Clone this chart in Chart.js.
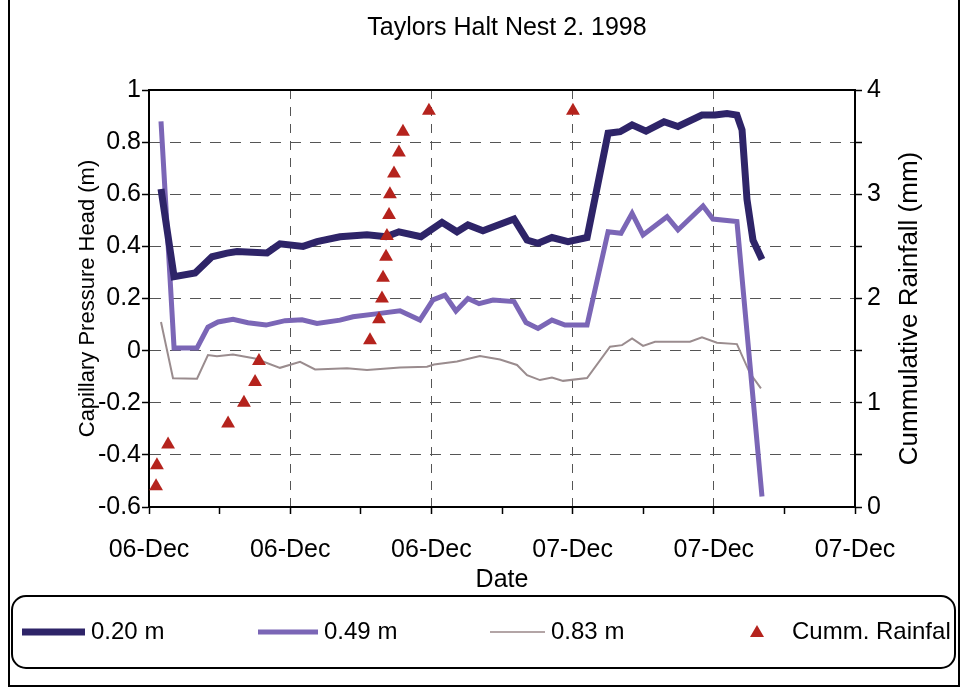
<!DOCTYPE html>
<html>
<head>
<meta charset="utf-8">
<title>Taylors Halt Nest 2. 1998</title>
<script src="https://cdn.jsdelivr.net/npm/chart.js@4.4.1/dist/chart.umd.min.js"></script>
<style>
  html, body { margin: 0; padding: 0; background: #fff; }
  #wrap { width: 964px; height: 692px; }
</style>
</head>
<body>
<div id="wrap"><canvas id="nest2" width="964" height="692"></canvas></div>
<script>
// x values are hours from the first tick (06-Dec)
var xTickLabels = ['06-Dec', '06-Dec', '06-Dec', '07-Dec', '07-Dec', '07-Dec'];
var yTickLabels = ['-0.6', '-0.4', '-0.2', '0', '0.2', '0.4', '0.6', '0.8', '1'];
var rainTickLabels = ['0', '1', '2', '3', '4'];

// 0.20 m
var hours020 = [0.68, 1.42, 2.61, 3.57, 4.42, 4.99, 6.69, 7.42, 8.73, 9.52, 10.82, 12.35, 13.43, 14.16, 15.41,
    16.60, 17.45, 18.07, 18.92, 20.68, 21.42, 22.04, 22.83, 23.74, 24.82, 26.01, 26.69, 27.37, 28.16, 29.18,
    29.97, 31.33, 32.07, 32.75, 33.31, 33.60, 33.88, 34.22, 34.73];
var head020 = [0.62, 0.284, 0.298, 0.36, 0.374, 0.38, 0.375, 0.41, 0.40, 0.418, 0.437, 0.445, 0.437, 0.456, 0.437,
    0.492, 0.456, 0.482, 0.46, 0.505, 0.424, 0.412, 0.434, 0.418, 0.434, 0.834, 0.84, 0.866, 0.842, 0.878,
    0.86, 0.904, 0.904, 0.91, 0.904, 0.847, 0.58, 0.424, 0.35];

// 0.49 m
var hours049 = [0.68, 1.42, 2.72, 3.34, 3.91, 4.76, 5.61, 6.63, 7.71, 8.67, 9.52, 10.82, 11.56, 13.09, 14.22,
    15.35, 16.09, 16.77, 17.39, 18.07, 18.70, 19.49, 20.68, 21.36, 22.04, 22.83, 23.57, 24.82, 26.01, 26.74,
    27.37, 27.99, 29.35, 29.97, 31.39, 31.95, 33.31, 34.73];
var head049 = [0.88, 0.01, 0.01, 0.09, 0.11, 0.12, 0.107, 0.098, 0.115, 0.118, 0.104, 0.117, 0.13, 0.143, 0.153,
    0.117, 0.195, 0.213, 0.152, 0.20, 0.18, 0.194, 0.188, 0.108, 0.085, 0.117, 0.098, 0.098, 0.456, 0.45,
    0.527, 0.444, 0.514, 0.463, 0.555, 0.505, 0.495, -0.56];

// 0.83 m
var hours083 = [0.68, 1.36, 2.72, 3.34, 3.85, 4.76, 6.01, 7.42, 8.56, 9.41, 11.22, 12.35, 14.22, 15.75, 16.15,
    17.45, 18.75, 19.89, 20.85, 21.42, 22.15, 22.83, 23.46, 24.82, 26.12, 26.80, 27.37, 27.99, 28.67, 30.65,
    31.33, 32.18, 33.31, 34.05, 34.67];
var head083 = [0.11, -0.106, -0.108, -0.017, -0.022, -0.015, -0.03, -0.066, -0.043, -0.072, -0.068, -0.074, -0.065, -0.062, -0.053,
    -0.042, -0.021, -0.034, -0.055, -0.094, -0.113, -0.103, -0.116, -0.105, 0.015, 0.021, 0.047, 0.018, 0.034, 0.034,
    0.051, 0.03, 0.025, -0.087, -0.145];

// cumulative rainfall (mm)
var hoursRain = [0.40, 0.45, 1.08, 4.48, 5.38, 6.01, 6.23, 12.52, 13.03, 13.20, 13.26, 13.43, 13.48, 13.60, 13.65,
    13.88, 14.16, 14.39, 15.86, 24.02];
var rainMm = [0.2, 0.4, 0.6, 0.8, 1.0, 1.2, 1.4, 1.6, 1.8, 2.0, 2.2, 2.4, 2.6, 2.8, 3.0,
    3.2, 3.4, 3.6, 3.8, 3.8];

var FONT = "'Liberation Sans', Arial, sans-serif";
var navy = '#2e2468';
var purple = '#7b66b6';
var grey = '#9a8c8e';
var red = '#b5231d';

function pairs(xs, ys) {
    var out = [];
    for (var i = 0; i < xs.length; i++) out.push({x: xs[i], y: ys[i]});
    return out;
}

// frame, title, right axis title (reads bottom-up) and the boxed legend
var decor = {
    id: 'decor',
    afterDraw: function (chart) {
        var c = chart.ctx, a = chart.chartArea;
        c.save();
        c.strokeStyle = '#000';
        c.lineWidth = 2;
        c.beginPath();
        c.moveTo(a.left, a.top);
        c.lineTo(a.right, a.top);
        c.stroke();

        // outer border of the figure
        c.beginPath();
        c.moveTo(9, 0);
        c.lineTo(9, 686);
        c.lineTo(959, 686);
        c.lineTo(959, 0);
        c.stroke();

        c.fillStyle = '#000';
        c.font = '25px ' + FONT;
        c.textAlign = 'center';
        c.textBaseline = 'middle';
        c.fillText('Taylors Halt Nest 2. 1998', (a.left + a.right) / 2 + 5, 28);

        c.save();
        c.font = '26px ' + FONT;
        c.translate(910, (a.top + a.bottom) / 2 + 10);
        c.rotate(-Math.PI / 2);
        c.fillText('Cummulative Rainfall (mm)', 0, 0);
        c.restore();

        // legend box
        var bx = 12, by = 596, bw = 943, bh = 72, r = 14;
        c.beginPath();
        c.moveTo(bx + r, by);
        c.arcTo(bx + bw, by, bx + bw, by + bh, r);
        c.arcTo(bx + bw, by + bh, bx, by + bh, r);
        c.arcTo(bx, by + bh, bx, by, r);
        c.arcTo(bx, by, bx + bw, by, r);
        c.closePath();
        c.stroke();

        var ly = 632;
        var items = [
            {x0: 22, x1: 85, color: navy, w: 7, text: '0.20 m'},
            {x0: 258, x1: 318, color: purple, w: 5, text: '0.49 m'},
            {x0: 490, x1: 545, color: '#b3a5a6', w: 2, text: '0.83 m'}
        ];
        c.textAlign = 'left';
        c.font = '24px ' + FONT;
        items.forEach(function (it) {
            c.strokeStyle = it.color;
            c.lineWidth = it.w;
            c.beginPath();
            c.moveTo(it.x0, ly);
            c.lineTo(it.x1, ly);
            c.stroke();
            c.fillText(it.text, it.x1 + 6, ly);
        });
        c.fillStyle = red;
        c.beginPath();
        c.moveTo(757, ly - 7);
        c.lineTo(764, ly + 5);
        c.lineTo(750, ly + 5);
        c.closePath();
        c.fill();
        c.fillStyle = '#000';
        c.fillText('Cumm. Rainfal', 792, ly);
        c.restore();
    }
};

var ctx = document.getElementById('nest2');

var chart = new Chart(ctx, {
    type: 'line',
    data: {
        datasets: [{
            label: '0.20 m',
            data: pairs(hours020, head020),
            borderColor: navy,
            borderWidth: 7,
            pointRadius: 0,
            yAxisID: 'y'
        }, {
            label: '0.49 m',
            data: pairs(hours049, head049),
            borderColor: purple,
            borderWidth: 5,
            pointRadius: 0,
            yAxisID: 'y'
        }, {
            label: '0.83 m',
            data: pairs(hours083, head083),
            borderColor: grey,
            borderWidth: 2,
            pointRadius: 0,
            yAxisID: 'y'
        }, {
            label: 'Cumm. Rainfal',
            data: pairs(hoursRain, rainMm),
            showLine: false,
            pointStyle: 'triangle',
            pointRadius: 8,
            backgroundColor: red,
            borderColor: red,
            borderWidth: 0,
            yAxisID: 'y1',
            order: -1
        }]
    },
    options: {
        responsive: false,
        animation: false,
        devicePixelRatio: 1,
        layout: {
            padding: {left: 75, right: 0, top: 90, bottom: 95}
        },
        plugins: {
            legend: {display: false},
            tooltip: {enabled: false}
        },
        scales: {
            x: {
                type: 'linear',
                min: 0,
                max: 40,
                afterFit: function (s) { s.height = 90; },
                ticks: {
                    stepSize: 4,
                    autoSkip: false,
                    maxRotation: 0,
                    color: '#000',
                    padding: 21,
                    font: {family: FONT, size: 25},
                    callback: function (v) {
                        return v % 8 === 0 ? xTickLabels[v / 8] : '';
                    }
                },
                grid: {
                    color: function (c) {
                        var v = c.tick ? c.tick.value : 0;
                        return (v % 8 === 0 && v > 0 && v < 40) ? '#555' : 'transparent';
                    },
                    lineWidth: 1,
                    tickColor: '#000',
                    tickLength: 7,
                    tickWidth: 1.5
                },
                border: {color: '#000', width: 2, dash: [9, 8]},
                title: {
                    display: true,
                    text: 'Date',
                    color: '#000',
                    font: {family: FONT, size: 25},
                    padding: {top: 0, bottom: 2}
                }
            },
            y: {
                position: 'left',
                min: -0.6,
                max: 1,
                afterFit: function (s) { s.width = 74; },
                ticks: {
                    stepSize: 0.1,
                    color: '#000',
                    padding: 1,
                    font: {family: FONT, size: 25},
                    callback: function (v) {
                        var k = Math.round((v + 0.6) * 10);
                        return k % 2 === 0 ? yTickLabels[k / 2] : '';
                    }
                },
                grid: {
                    color: function (c) {
                        var v = c.tick ? c.tick.value : 0;
                        var k = Math.round((v + 0.6) * 10);
                        return (k % 2 === 0 && k > 0 && k < 16) ? '#555' : 'transparent';
                    },
                    lineWidth: 1,
                    tickColor: '#000',
                    tickLength: 7,
                    tickWidth: 1.5
                },
                border: {color: '#000', width: 2, dash: [11, 9]},
                title: {
                    display: true,
                    text: 'Capillary Pressure Head (m)',
                    color: '#000',
                    font: {family: FONT, size: 22},
                    padding: {top: 0, bottom: 0}
                }
            },
            y1: {
                position: 'right',
                min: 0,
                max: 4,
                afterFit: function (s) { s.width = 109; },
                ticks: {
                    stepSize: 0.5,
                    color: '#000',
                    padding: 5,
                    font: {family: FONT, size: 25},
                    callback: function (v) {
                        return Number.isInteger(v) ? rainTickLabels[v] : '';
                    }
                },
                grid: {
                    drawOnChartArea: false,
                    tickColor: '#000',
                    tickLength: 7,
                    tickWidth: 1.5
                },
                border: {color: '#000', width: 2}
            }
        }
    },
    plugins: [decor]
});
</script>
</body>
</html>
